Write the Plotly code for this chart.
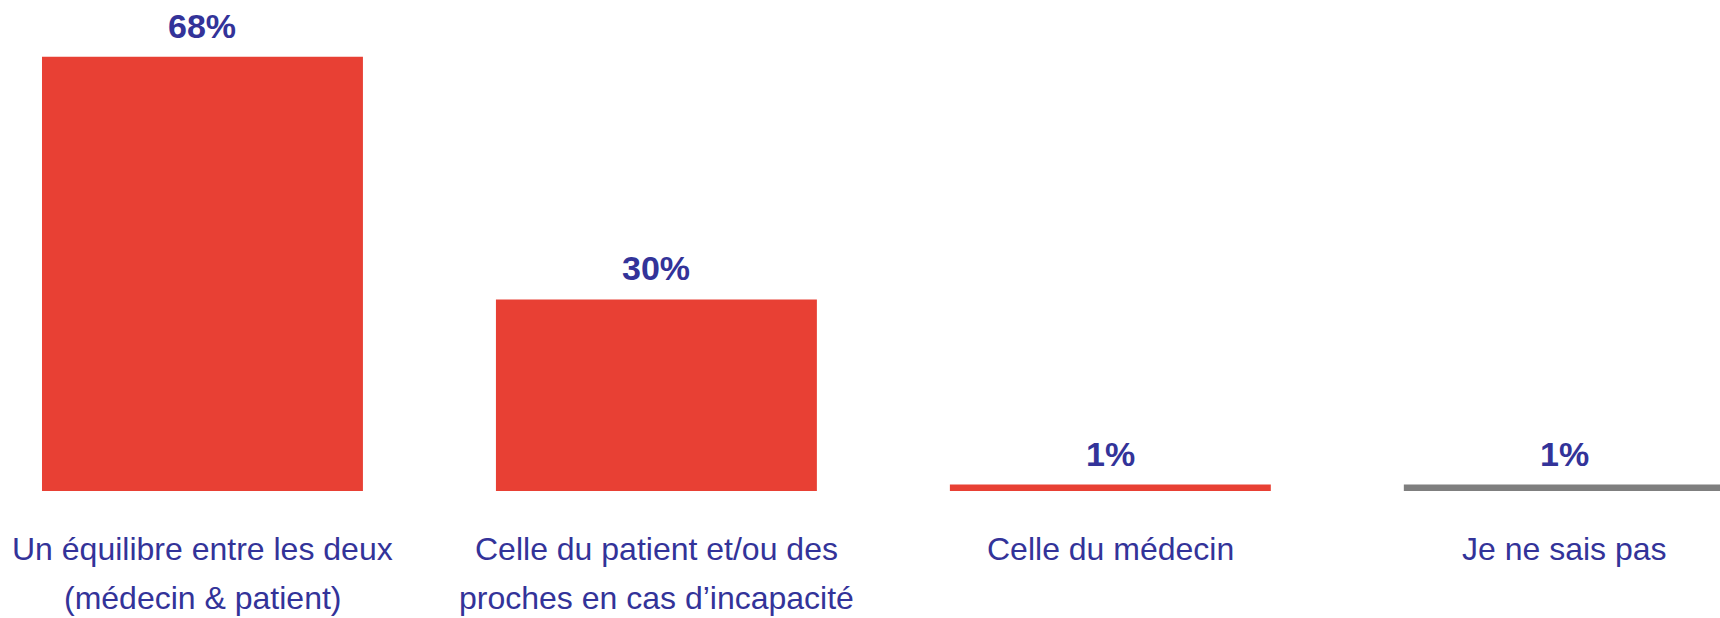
import plotly.graph_objects as go

categories = [
    "Un équilibre entre les deux<br>(médecin & patient)",
    "Celle du patient et/ou des<br>proches en cas d’incapacité",
    "Celle du médecin",
    "Je ne sais pas",
]
values = [68, 30, 1, 1]
labels = ["68%", "30%", "1%", "1%"]
bar_colors = ["#E84034", "#E84034", "#E84034", "#7F7F7F"]

TEXT = "#333399"

fig = go.Figure()
fig.add_trace(go.Bar(
    x=list(range(len(categories))),
    y=values,
    marker=dict(color=bar_colors, line=dict(width=0)),
    hoverinfo="skip",
))

# value labels above the bars
for i, (v, t) in enumerate(zip(values, labels)):
    fig.add_annotation(
        x=i, y=v, text=f"<b>{t}</b>", showarrow=False,
        yanchor="middle", yshift=31,
        font=dict(family="Liberation Sans, Arial, sans-serif", size=34, color=TEXT),
    )

# category labels under the axis (one annotation per line for wider line spacing)
for i, cat in enumerate(categories):
    for j, line in enumerate(cat.split("<br>")):
        fig.add_annotation(
            x=i, y=0, text=line, showarrow=False,
            yanchor="middle", yshift=-58 - 49 * j,
            font=dict(family="Liberation Sans, Arial, sans-serif", size=32, color=TEXT),
        )

fig.update_layout(
    width=1720, height=618,
    margin=dict(l=0, r=0, t=0, b=127),
    paper_bgcolor="white", plot_bgcolor="white",
    bargap=0.293,
    showlegend=False,
    xaxis=dict(
        range=[-0.446, 3.343],
        showticklabels=False,
        showgrid=False, zeroline=False, showline=False, ticks="",
    ),
    yaxis=dict(
        range=[0, 76.9],
        visible=False,
        showgrid=False, zeroline=False,
    ),
)

fig.write_html("out.html", config={"displayModeBar": False},
               post_script="document.body.style.margin='0px';")
